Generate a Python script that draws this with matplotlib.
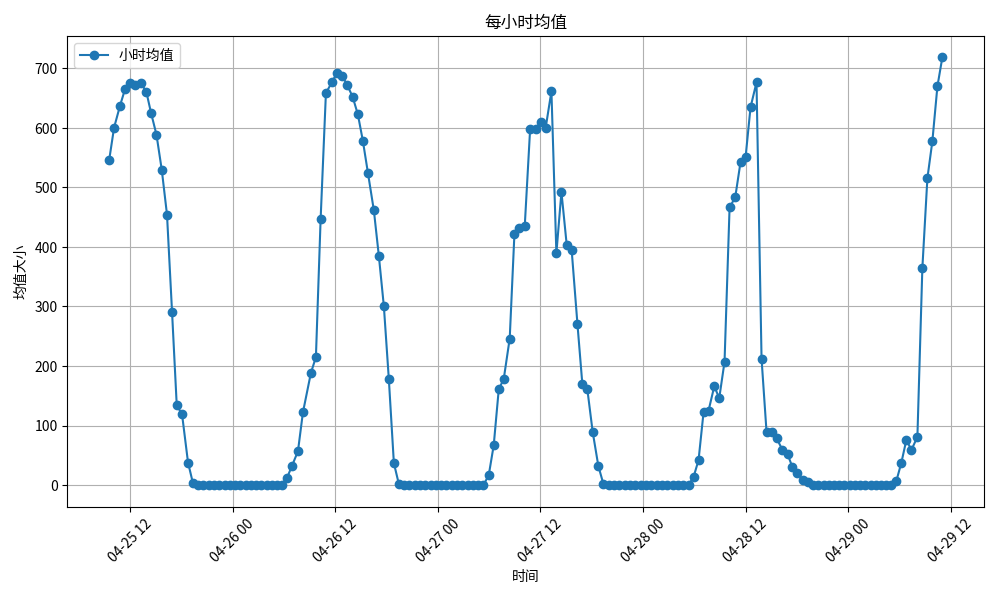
import pandas as pd
import matplotlib.pyplot as plt

plt.rcParams['font.family'] = ['Noto Sans CJK SC', 'DejaVu Sans']
plt.rcParams['axes.unicode_minus'] = False

START = pd.Timestamp("2024-04-25 00:00")

# hours after 04-25 00:00, one list per stretch
hours_day1 = [9.55, 10.13, 10.83, 11.42, 12.05, 12.63, 13.29, 13.92, 14.45, 15.09,
              15.71, 16.32, 16.91, 17.46, 18.08, 18.78, 19.36]
vals_day1 = [545, 600, 637, 665, 675, 671, 675, 659, 625, 588,
             529, 454, 291, 134, 119, 38, 3]

hours_night1 = [19.97, 20.59, 21.20, 21.82, 22.43, 23.05, 23.66, 24.28, 24.89, 25.51,
                26.12, 26.74, 27.35, 27.97, 28.58, 29.20, 29.81]
vals_night1 = [0, 0, 0, 0, 0, 0, 0, 0, 0, 0, 0, 0, 0, 0, 0, 0, 1]

hours_day2 = [30.35, 30.93, 31.64, 32.22, 33.15, 33.74, 34.29, 34.91, 35.61, 36.19,
              36.82, 37.41, 38.03, 38.65, 39.23, 39.82, 40.52, 41.10, 41.69, 42.27,
              42.86, 43.44]
vals_day2 = [12, 32, 57, 122, 188, 215, 446, 658, 676, 692,
             687, 671, 652, 622, 578, 524, 461, 385, 300, 178,
             37, 2]

hours_night2 = [44.06, 44.68, 45.30, 45.92, 46.54, 47.16, 47.77, 48.39, 49.01, 49.63,
                50.25, 50.87, 51.49, 52.10, 52.72, 53.34]
vals_night2 = [0, 0, 0, 0, 0, 0, 0, 0, 0, 0, 0, 0, 0, 0, 0, 0]

hours_day3 = [53.96, 54.54, 55.13, 55.71, 56.41, 56.96, 57.55, 58.17, 58.80, 59.45,
              60.04, 60.62, 61.29, 61.87, 62.46, 63.08, 63.66, 64.33, 64.91, 65.49,
              66.11, 66.78, 67.37]
vals_day3 = [17, 67, 161, 178, 246, 421, 432, 435, 598, 597,
             610, 600, 661, 389, 492, 403, 394, 271, 169, 161,
             90, 32, 2]

hours_night3 = [67.99, 68.62, 69.24, 69.86, 70.48, 71.11, 71.73, 72.35, 72.97, 73.60,
                74.22, 74.84, 75.46, 76.09, 76.71, 77.33]
vals_night3 = [0, 0, 0, 0, 0, 0, 0, 0, 0, 0, 0, 0, 0, 0, 0, 0]

hours_day4 = [77.92, 78.50, 79.09, 79.67, 80.34, 80.92, 81.54, 82.13, 82.79, 83.41,
              84.00, 84.58, 85.28, 85.87, 86.45, 87.04, 87.62, 88.32, 88.91, 89.49,
              90.07, 90.74, 91.33, 91.91]
vals_day4 = [14, 42, 123, 125, 166, 146, 207, 466, 483, 542,
             550, 634, 676, 212, 90, 90, 79, 59, 52, 30,
             20, 8, 6, 0]

hours_night4 = [92.52, 93.13, 93.74, 94.35, 94.96, 95.57, 96.18, 96.79, 97.40, 98.01,
                98.62, 99.23, 99.84, 100.45, 101.06]
vals_night4 = [0, 0, 0, 0, 0, 0, 0, 0, 0, 0, 0, 0, 0, 0, 0]

hours_day5 = [101.64, 102.23, 102.81, 103.40, 104.10, 104.68, 105.27, 105.85, 106.44, 107.02]
vals_day5 = [7, 38, 76, 59, 81, 364, 515, 577, 669, 718]

hours = (hours_day1 + hours_night1 + hours_day2 + hours_night2 + hours_day3
         + hours_night3 + hours_day4 + hours_night4 + hours_day5)
values = (vals_day1 + vals_night1 + vals_day2 + vals_night2 + vals_day3
          + vals_night3 + vals_day4 + vals_night4 + vals_day5)

df = pd.DataFrame({"time": START + pd.to_timedelta(hours, unit="h"), "value": values})

plt.figure(figsize=(10, 6))
plt.plot(df["time"], df["value"], marker="o", label="小时均值")
plt.title("每小时均值")
plt.xlabel("时间")
plt.ylabel("均值大小")
plt.legend(loc="upper left")
plt.grid(True)
plt.xticks(rotation=45)
plt.tight_layout()
plt.savefig("out.png", dpi=99.9)
